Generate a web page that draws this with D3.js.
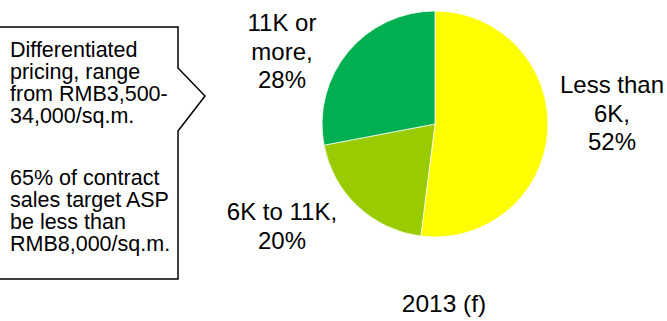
<!DOCTYPE html>
<html>
<head>
<meta charset="utf-8">
<script src="https://cdn.jsdelivr.net/npm/d3@7"></script>
<style>
  body { margin: 0; background: #fff; }
  text { font-family: "Liberation Sans", Arial, sans-serif; fill: #000; }
</style>
</head>
<body>
<script>
// Chart data
const categories = ['Less than 6K', '6K to 11K', '11K or more'];
const shares = [52, 20, 28];
const sliceColors = ['#FFFF00', '#99CC00', '#00B050'];
const labelLines = [
  ['Less than', '6K,', '52%'],
  ['6K to 11K,', '20%'],
  ['11K or', 'more,', '28%']
];
const title = '2013 (f)';
const calloutParas = [
  ['Differentiated', 'pricing, range', 'from RMB3,500-', '34,000/sq.m.'],
  ['65% of contract', 'sales target ASP', 'be less than', 'RMB8,000/sq.m.']
];

const width = 667;
const height = 321;

const svg = d3.select('body')
  .append('svg')
  .attr('width', width)
  .attr('height', height);

// Callout box with arrow pointing at the pie
const box = { left: -2, top: 27, right: 178, bottom: 279, arrowTop: 68, arrowTip: [205, 96], arrowBottom: 131 };
const boxPath = d3.path();
boxPath.moveTo(box.left, box.top);
boxPath.lineTo(box.right, box.top);
boxPath.lineTo(box.right, box.arrowTop);
boxPath.lineTo(box.arrowTip[0], box.arrowTip[1]);
boxPath.lineTo(box.right, box.arrowBottom);
boxPath.lineTo(box.right, box.bottom);
boxPath.lineTo(box.left, box.bottom);
boxPath.closePath();

svg.append('path')
  .attr('d', boxPath.toString())
  .attr('fill', '#fff')
  .attr('stroke', '#000')
  .attr('stroke-width', 1.5);

const calloutLineH = 22;
const calloutParaGap = 62;
const callout = svg.append('g').attr('transform', 'translate(10,57)');
calloutParas.forEach((para, p) => {
  callout.selectAll('.p' + p)
    .data(para)
    .enter()
    .append('text')
    .attr('class', 'p' + p)
    .attr('x', 0)
    .attr('y', (d, i) => p * (3 * calloutLineH + calloutParaGap) + i * calloutLineH)
    .style('font-size', '21.5px')
    .text(d => d);
});

// Pie
const cx = 435, cy = 124, radius = 113;
const pie = d3.pie().sort(null).value(d => d)(shares);
const arc = d3.arc().innerRadius(0).outerRadius(radius);

const pieG = svg.append('g').attr('transform', `translate(${cx},${cy})`);
pieG.selectAll('path')
  .data(pie)
  .enter()
  .append('path')
  .attr('d', arc)
  .attr('fill', (d, i) => sliceColors[i])
  .attr('stroke', '#fff')
  .attr('stroke-width', 0.75);

// Slice labels (placed beside the pie like the original)
const labelAnchors = [[612, 93], [282, 220], [282, 31]];
const labelLineH = 28.5;
labelLines.forEach((lines, k) => {
  svg.append('g')
    .selectAll('text')
    .data(lines)
    .enter()
    .append('text')
    .attr('x', labelAnchors[k][0])
    .attr('y', (d, i) => labelAnchors[k][1] + i * labelLineH)
    .attr('text-anchor', 'middle')
    .style('font-size', '24px')
    .text(d => d);
});

svg.append('text')
  .attr('x', 444)
  .attr('y', 312)
  .attr('text-anchor', 'middle')
  .style('font-size', '24.5px')
  .text(title);
</script>
</body>
</html>
